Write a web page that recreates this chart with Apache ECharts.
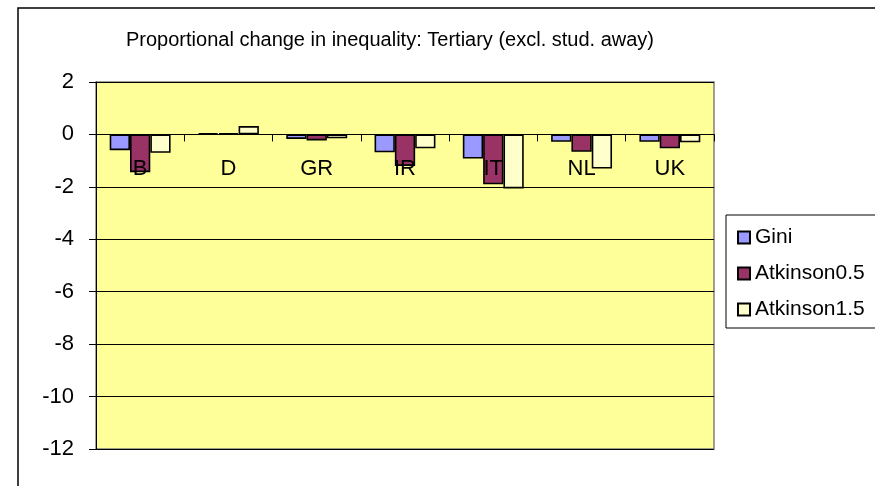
<!DOCTYPE html>
<html>
<head>
<meta charset="utf-8">
<script src="https://cdn.jsdelivr.net/npm/echarts@6/dist/echarts.min.js"></script>
<style>
  html, body { margin: 0; padding: 0; background: #fff; }
  #chart { width: 875px; height: 486px; }
</style>
</head>
<body>
<div id="chart"></div>
<script>
var countries = ['B', 'D', 'GR', 'IR', 'IT', 'NL', 'UK'];
var gini = [-0.6, 0.05, -0.17, -0.68, -0.92, -0.28, -0.28];
var atkinson05 = [-1.44, 0.05, -0.23, -1.2, -1.9, -0.66, -0.53];
var atkinson15 = [-0.7, 0.32, -0.15, -0.53, -2.06, -1.3, -0.3];
var yTicks = { min: -12, max: 2, interval: 2 };

var gridH = 367;
// category axis sits on the zero line (labels too), so shift it up from the grid bottom
var zeroOffset = gridH * (0 - yTicks.min) / (yTicks.max - yTicks.min);

var chart = echarts.init(document.getElementById('chart'), null, { renderer: 'canvas' });

function bar(name, data, color) {
  return {
    name: name,
    type: 'bar',
    data: data,
    barGap: '0%',
    barCategoryGap: '31%',
    itemStyle: { color: color, borderColor: '#000', borderWidth: 1.6 }
  };
}

var option = {
  animation: false,
  textStyle: { fontFamily: 'Liberation Sans, Arial, sans-serif' },
  title: {
    text: 'Proportional change in inequality: Tertiary (excl. stud. away)',
    left: 385,
    top: 25,
    textAlign: 'center',
    textStyle: { fontSize: 20, fontWeight: 'normal', color: '#000' }
  },
  graphic: [
    { type: 'rect', shape: { x: 18, y: 8, width: 900, height: 520 },
      style: { fill: 'none', stroke: '#000', lineWidth: 1.5 }, z: -1 },
    { type: 'rect', shape: { x: 726, y: 215, width: 200, height: 113 },
      style: { fill: '#fff', stroke: '#000', lineWidth: 1 }, z: 0 }
  ],
  legend: {
    orient: 'vertical',
    left: 732,
    top: 222,
    itemWidth: 12,
    itemHeight: 12,
    itemGap: 15,
    icon: 'rect',
    z: 5,
    textStyle: { fontSize: 21, color: '#000' },
    data: ['Gini', 'Atkinson0.5', 'Atkinson1.5']
  },
  grid: {
    left: 96, top: 82, width: 618, height: gridH,
    show: true,
    backgroundColor: '#FFFF99',
    borderColor: '#808080',
    borderWidth: 1.5
  },
  xAxis: {
    type: 'category',
    data: countries,
    position: 'bottom',
    offset: -zeroOffset,
    z: 10,
    axisLine: { onZero: false, lineStyle: { color: '#000', width: 1 } },
    axisTick: { show: true, length: 7, lineStyle: { color: '#000' } },
    axisLabel: { fontSize: 22, color: '#000', margin: 24 }
  },
  yAxis: {
    type: 'value',
    min: yTicks.min,
    max: yTicks.max,
    interval: yTicks.interval,
    axisLine: { show: true, lineStyle: { color: '#000', width: 1 } },
    axisTick: { show: true, length: 7, lineStyle: { color: '#000' } },
    axisLabel: { fontSize: 22, color: '#000', margin: 22 },
    splitLine: { show: true, lineStyle: { color: '#000', width: 1 } }
  },
  series: [
    bar('Gini', gini, '#9999FF'),
    bar('Atkinson0.5', atkinson05, '#993366'),
    bar('Atkinson1.5', atkinson15, '#FFFFCC')
  ]
};

chart.setOption(option);
</script>
</body>
</html>
